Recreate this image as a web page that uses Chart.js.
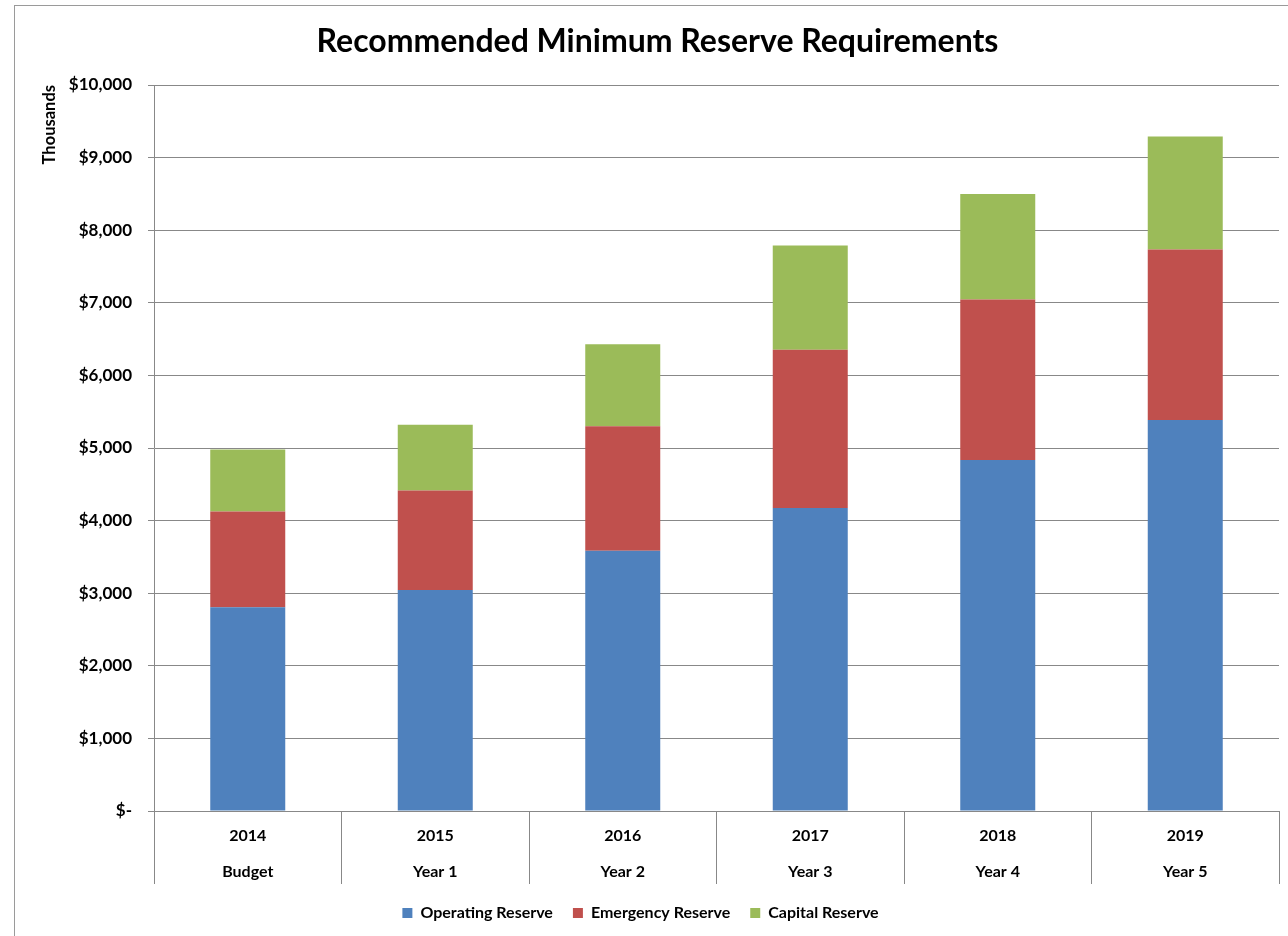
<!DOCTYPE html>
<html>
<head>
<meta charset="utf-8">
<script src="https://cdn.jsdelivr.net/npm/chart.js@4.4.0/dist/chart.umd.min.js"></script>
<style>
  html, body { margin: 0; padding: 0; background: #fff; overflow: hidden; }
  #frame { position: absolute; left: 14px; top: 5px; width: 1300px; height: 960px; border: 1px solid #9a9a9a; }
  #wrap { position: absolute; left: 0; top: 0; width: 1288px; height: 936px; }
</style>
</head>
<body>
<div id="frame"></div>
<div id="wrap"><canvas id="reserveChart" width="1288" height="936"></canvas></div>
<script>
// Reserve requirements, in thousands of dollars
const years = ['2014', '2015', '2016', '2017', '2018', '2019'];
const periods = ['Budget', 'Year 1', 'Year 2', 'Year 3', 'Year 4', 'Year 5'];
const operatingReserve = [2805, 3045, 3585, 4175, 4835, 5385];
const emergencyReserve = [1320, 1370, 1715, 2180, 2210, 2350];
const capitalReserve = [855, 905, 1130, 1435, 1455, 1555];

const gridGray = '#888888';

Chart.defaults.font.family = 'Lato, "Open Sans", sans-serif';
Chart.defaults.font.weight = 'bold';
Chart.defaults.color = '#000';

// dollar labels, zero shown as "$-"
function money(v) {
    return v === 0 ? '$-' : '$' + v.toLocaleString('en-US');
}

// legend sits a little left of centre
const legendNudge = {
    id: 'legendNudge',
    afterLayout(chart) {
        chart.legend.left -= 17;
        chart.legend.right -= 17;
    }
};

const ctx = document.getElementById('reserveChart').getContext('2d');

new Chart(ctx, {
    type: 'bar',
    data: {
        labels: years.map((y, i) => [y, periods[i]]),
        datasets: [
            { label: 'Operating Reserve', data: operatingReserve, backgroundColor: '#4F81BD' },
            { label: 'Emergency Reserve', data: emergencyReserve, backgroundColor: '#C0504D' },
            { label: 'Capital Reserve', data: capitalReserve, backgroundColor: '#9BBB59' }
        ]
    },
    plugins: [legendNudge],
    options: {
        responsive: false,
        animation: false,
        categoryPercentage: 1,
        barPercentage: 0.4,
        layout: { padding: { left: 36, right: 9, top: 16, bottom: 5 } },
        plugins: {
            title: {
                display: true,
                text: 'Recommended Minimum Reserve Requirements',
                font: { size: 32, weight: 'bold' },
                padding: { top: 6, bottom: 24.6 }
            },
            legend: {
                position: 'bottom',
                labels: {
                    boxWidth: 10,
                    boxHeight: 10,
                    padding: 20,
                    font: { size: 16 }
                }
            },
            tooltip: { enabled: false }
        },
        scales: {
            x: {
                stacked: true,
                grid: { offset: true, drawOnChartArea: false, tickLength: 73, color: gridGray },
                border: { color: gridGray },
                ticks: { padding: -66, maxRotation: 0, autoSkip: false, font: { size: 16, lineHeight: 2.25 } },
                afterFit: s => { s.height = 74; }
            },
            y: {
                stacked: true,
                min: 0,
                max: 10000,
                grid: { tickLength: 6, color: gridGray },
                border: { color: gridGray },
                ticks: { stepSize: 1000, padding: 16, font: { size: 17 }, callback: v => money(v) },
                title: { display: true, text: 'Thousands', align: 'end', padding: { top: 4, bottom: 0 }, font: { size: 16.5 } },
                afterFit: s => { s.width = 118; }
            }
        }
    }
});
</script>
</body>
</html>
